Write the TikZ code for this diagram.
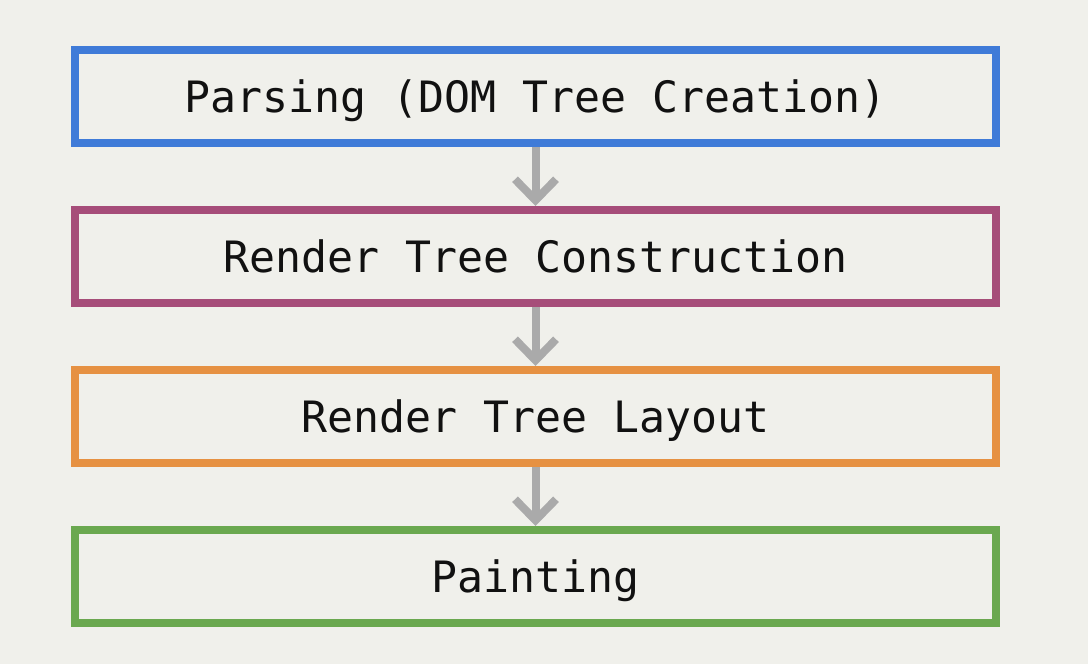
\documentclass[tikz,border=0pt]{standalone}
\usepackage{fontspec}
\usepackage{tikz}
\usetikzlibrary{arrows.meta}
\newfontfamily\boxfont{DejaVu Sans Mono}
\definecolor{bgGray}{HTML}{F0F0EB}
\definecolor{arrowGray}{HTML}{AAAAAA}
\definecolor{textBlack}{HTML}{111111}
\definecolor{parseBlue}{HTML}{3F7BD8}
\definecolor{renderPurple}{HTML}{A64D79}
\definecolor{layoutOrange}{HTML}{E69142}
\definecolor{paintGreen}{HTML}{6AA84F}

\begin{document}
\begin{tikzpicture}[x=1pt, y=-1pt]
    \tikzstyle{stepBox} = [rectangle, draw, line width=8pt, minimum width=921pt,
        minimum height=93pt, text height=34pt, text depth=3pt, text=textBlack,
        font=\boxfont\fontsize{43.2}{50}\selectfont]
    \tikzstyle{grayArrow} = [draw=arrowGray, line width=8pt,
        -{Straight Barb[length=21pt, width=41pt]}]
    \fill[bgGray] (0,0) rectangle (1088,664);
    \useasboundingbox (0,0) rectangle (1088,664);
    \node[stepBox, draw=parseBlue] (P) at (535.5,96.5) {Parsing (DOM Tree Creation)};
    \node[stepBox, draw=renderPurple] (C) at (535.5,256.5) {Render Tree Construction};
    \node[stepBox, draw=layoutOrange] (L) at (535.5,416.5) {Render Tree Layout};
    \node[stepBox, draw=paintGreen] (T) at (535.5,576.5) {Painting};
    \path[grayArrow] (P) edge (C);
    \path[grayArrow] (C) edge (L);
    \path[grayArrow] (L) edge (T);
\end{tikzpicture}
\end{document}
